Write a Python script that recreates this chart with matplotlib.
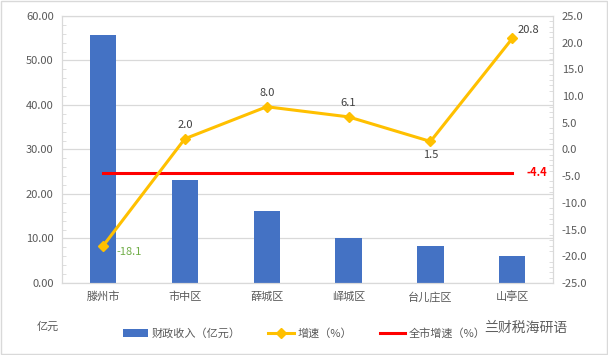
import numpy as np
import matplotlib.pyplot as plt
from matplotlib.ticker import MultipleLocator, FormatStrFormatter

plt.rcParams['font.family'] = ['Noto Sans CJK SC', 'DejaVu Sans']

districts = ['滕州市', '市中区', '薛城区', '峄城区', '台儿庄区', '山亭区']
revenue = [55.8, 23.2, 16.2, 10.0, 8.2, 6.1]
growth = [-18.1, 2.0, 8.0, 6.1, 1.5, 20.8]
city_growth = -4.4

grid_c = '#D9D9D9'
txt_c = '#595959'

fig = plt.figure(figsize=(6.08, 3.55), dpi=100)
ax = fig.add_axes([0.102, 0.203, 0.808, 0.752])
ax2 = ax.twinx()

x = np.arange(len(districts))
ax.bar(x, revenue, width=0.32, color='#4472C4', zorder=2, label='财政收入（亿元）')
ax.set_ylim(0, 60)
ax.set_xlim(-0.5, len(districts) - 0.5)
ax.yaxis.set_major_locator(MultipleLocator(10))
ax.yaxis.set_minor_locator(MultipleLocator(2))
ax.yaxis.set_major_formatter(FormatStrFormatter('%.2f'))
ax.grid(axis='y', color=grid_c, lw=0.9, zorder=0)
ax.set_axisbelow(True)
ax.set_xticks(x)
ax.set_xticklabels(districts)

ax2.plot(x, growth, color='#FFC000', lw=2.2, marker='D', ms=5, zorder=4, label='增速（%）')
ax2.plot([x[0], x[-1]], [city_growth] * 2, color='#FF0000', lw=2.2, zorder=3, label='全市增速（%）')
ax2.set_ylim(-25, 25)
ax2.yaxis.set_major_locator(MultipleLocator(5))
ax2.yaxis.set_minor_locator(MultipleLocator(1))
ax2.yaxis.set_major_formatter(FormatStrFormatter('%.1f'))

for a in (ax, ax2):
    for s in a.spines.values():
        s.set_color(grid_c)
    a.tick_params(axis='both', which='major', length=0, labelsize=8, labelcolor=txt_c, pad=6)
    a.tick_params(axis='y', which='minor', direction='in', length=3, color=grid_c)

# data labels
for i, v in enumerate(growth):
    if i == 0:
        ax2.annotate(f'{v:.1f}', (x[i], v), xytext=(10, -4), textcoords='offset points',
                     color='#70AD47', fontsize=8, ha='left', va='center')
    elif i == len(growth) - 1:
        ax2.annotate(f'{v:.1f}', (x[i], v), xytext=(4, 6), textcoords='offset points',
                     color='#404040', fontsize=8, ha='left', va='center')
    elif i == 4:
        ax2.annotate(f'{v:.1f}', (x[i], v), xytext=(0, -10), textcoords='offset points',
                     color='#404040', fontsize=8, ha='center', va='center')
    else:
        ax2.annotate(f'{v:.1f}', (x[i], v), xytext=(0, 10), textcoords='offset points',
                     color='#404040', fontsize=8, ha='center', va='center')
ax2.annotate(f'{city_growth:.1f}', (x[-1], city_growth), xytext=(10, 0), textcoords='offset points',
             color='#FF0000', fontsize=8, fontweight='bold', ha='left', va='center')

h1, l1 = ax.get_legend_handles_labels()
h2, l2 = ax2.get_legend_handles_labels()
fig.legend(h1 + h2, l1 + l2, loc='center', bbox_to_anchor=(0.5, 0.06), ncol=3, frameon=False,
           fontsize=8, labelcolor=txt_c, handlelength=2.3, columnspacing=2.5, handletextpad=0.3)

fig.text(0.079, 0.08, '亿元', fontsize=8, color=txt_c, ha='center', va='center')
fig.text(0.865, 0.077, '兰财税海研语', fontsize=10, color='#606060', ha='center', va='center')

fig.patches.append(plt.Rectangle((0.002, 0.003), 0.996, 0.994, transform=fig.transFigure,
                                 fill=False, ec=grid_c, lw=1))

fig.savefig('out.png', dpi=100)
